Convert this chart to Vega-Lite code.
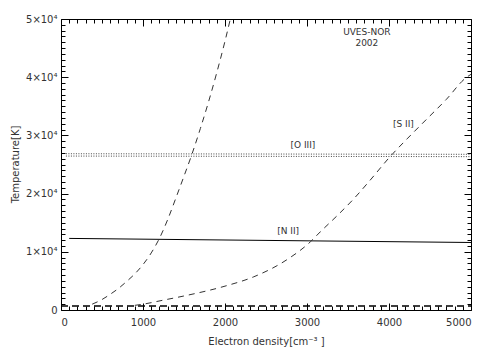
{
  "$schema": "https://vega.github.io/schema/vega-lite/v6.json",
  "width": 410,
  "height": 291,
  "autosize": {"type": "none"},
  "padding": {"left": 61, "top": 19, "right": 20, "bottom": 41},
  "background": "white",
  "config": {
    "view": {"stroke": "black", "strokeWidth": 1},
    "font": "DejaVu Sans",
    "axis": {
      "domain": false, "grid": false,
      "labelFont": "DejaVu Sans", "labelFontSize": 10, "labelColor": "#333",
      "tickColor": "black", "tickWidth": 1,
      "titleFont": "DejaVu Sans", "titleFontWeight": "normal", "titleFontSize": 10, "titleColor": "#333"
    }
  },
  "datasets": {
    "curves": [
      {"series": "base", "density": 0, "temp": 700},
      {"series": "base", "density": 5000, "temp": 700},
      {"series": "nii", "density": 100, "temp": 12300},
      {"series": "nii", "density": 5000, "temp": 11600},
      {"series": "oiii1", "density": 60, "temp": 26850},
      {"series": "oiii1", "density": 5000, "temp": 26750},
      {"series": "oiii2", "density": 60, "temp": 26450},
      {"series": "oiii2", "density": 5000, "temp": 26350},
      {"series": "steep", "density": 380, "temp": 1000},
      {"series": "steep", "density": 500, "temp": 1800},
      {"series": "steep", "density": 600, "temp": 2700},
      {"series": "steep", "density": 700, "temp": 3700},
      {"series": "steep", "density": 800, "temp": 4900},
      {"series": "steep", "density": 900, "temp": 6200},
      {"series": "steep", "density": 1000, "temp": 7800},
      {"series": "steep", "density": 1100, "temp": 9800},
      {"series": "steep", "density": 1200, "temp": 12300},
      {"series": "steep", "density": 1300, "temp": 15500},
      {"series": "steep", "density": 1400, "temp": 19200},
      {"series": "steep", "density": 1500, "temp": 23000},
      {"series": "steep", "density": 1600, "temp": 26900},
      {"series": "steep", "density": 1700, "temp": 31200},
      {"series": "steep", "density": 1800, "temp": 35800},
      {"series": "steep", "density": 1900, "temp": 40800},
      {"series": "steep", "density": 2000, "temp": 46200},
      {"series": "steep", "density": 2065, "temp": 50000},
      {"series": "sii", "density": 900, "temp": 800},
      {"series": "sii", "density": 1000, "temp": 1000},
      {"series": "sii", "density": 1250, "temp": 1700},
      {"series": "sii", "density": 1530, "temp": 2500},
      {"series": "sii", "density": 2000, "temp": 4100},
      {"series": "sii", "density": 2350, "temp": 5700},
      {"series": "sii", "density": 2750, "temp": 8600},
      {"series": "sii", "density": 3040, "temp": 11700},
      {"series": "sii", "density": 3160, "temp": 13400},
      {"series": "sii", "density": 3360, "temp": 16100},
      {"series": "sii", "density": 3570, "temp": 19100},
      {"series": "sii", "density": 3770, "temp": 22300},
      {"series": "sii", "density": 4010, "temp": 26300},
      {"series": "sii", "density": 4220, "temp": 29400},
      {"series": "sii", "density": 4460, "temp": 32800},
      {"series": "sii", "density": 4700, "temp": 36200},
      {"series": "sii", "density": 4930, "temp": 39800},
      {"series": "sii", "density": 5000, "temp": 40500}
    ],
    "labels": [
      {"text": "[O III]", "density": 2950, "temp": 28300},
      {"text": "[N II]", "density": 2770, "temp": 13500},
      {"text": "[S II]", "density": 4175, "temp": 32000},
      {"text": "UVES-NOR", "density": 3730, "temp": 47700},
      {"text": "2002", "density": 3730, "temp": 45850}
    ]
  },
  "resolve": {"axis": {"x": "independent", "y": "independent"}},
  "layer": [
    {
      "data": {"name": "curves"},
      "transform": [{"filter": "datum.series == 'base'"}],
      "mark": {"type": "line", "color": "black", "strokeWidth": 1.5, "strokeDash": [7, 4], "clip": true},
      "encoding": {
        "x": {"field": "density", "type": "quantitative", "scale": {"domain": [0, 5000], "nice": false, "zero": false},
          "axis": {"orient": "bottom", "values": [0, 1000, 2000, 3000, 4000, 5000], "format": "d", "tickSize": -7, "labelPadding": 14,
            "title": "Electron density[cm⁻³ ]", "titleY": 31, "titleBaseline": "middle"}},
        "y": {"field": "temp", "type": "quantitative", "scale": {"domain": [0, 50000], "nice": false, "zero": false},
          "axis": {"orient": "left", "values": [0, 10000, 20000, 30000, 40000, 50000], "tickSize": -7, "labelPadding": 11,
            "labelExpr": "datum.value == 0 ? '0' : format(datum.value/10000, 'd') + '×10⁴'",
            "title": "Temperature[K]", "titleX": -46, "titleY": 145, "titleBaseline": "middle", "titleAngle": 270}}
      }
    },
    {
      "data": {"name": "curves"},
      "transform": [{"filter": "datum.series == 'nii'"}],
      "mark": {"type": "line", "color": "black", "strokeWidth": 1},
      "encoding": {
        "x": {"field": "density", "type": "quantitative", "scale": {"domain": [0, 5000], "nice": false, "zero": false},
          "axis": {"orient": "bottom", "values": [100,200,300,400,500,600,700,800,900,1100,1200,1300,1400,1500,1600,1700,1800,1900,2100,2200,2300,2400,2500,2600,2700,2800,2900,3100,3200,3300,3400,3500,3600,3700,3800,3900,4100,4200,4300,4400,4500,4600,4700,4800,4900], "tickSize": -4, "labels": false, "title": null}},
        "y": {"field": "temp", "type": "quantitative", "scale": {"domain": [0, 50000], "nice": false, "zero": false},
          "axis": {"orient": "left", "values": [1000,2000,3000,4000,5000,6000,7000,8000,9000,11000,12000,13000,14000,15000,16000,17000,18000,19000,21000,22000,23000,24000,25000,26000,27000,28000,29000,31000,32000,33000,34000,35000,36000,37000,38000,39000,41000,42000,43000,44000,45000,46000,47000,48000,49000], "tickSize": -4, "labels": false, "title": null}}
      }
    },
    {
      "data": {"name": "curves"},
      "transform": [{"filter": "datum.series == 'steep'"}],
      "mark": {"type": "line", "color": "#333", "strokeWidth": 1, "strokeDash": [6, 5], "interpolate": "monotone"},
      "encoding": {
        "x": {"field": "density", "type": "quantitative", "scale": {"domain": [0, 5000], "nice": false, "zero": false},
          "axis": {"orient": "top", "values": [0, 1000, 2000, 3000, 4000, 5000], "tickSize": -7, "labels": false, "title": null}},
        "y": {"field": "temp", "type": "quantitative", "scale": {"domain": [0, 50000], "nice": false, "zero": false},
          "axis": {"orient": "right", "values": [0, 10000, 20000, 30000, 40000, 50000], "tickSize": -7, "labels": false, "title": null}}
      }
    },
    {
      "data": {"name": "curves"},
      "transform": [{"filter": "datum.series == 'sii'"}],
      "mark": {"type": "line", "color": "#333", "strokeWidth": 1, "strokeDash": [6, 5], "interpolate": "monotone"},
      "encoding": {
        "x": {"field": "density", "type": "quantitative", "scale": {"domain": [0, 5000], "nice": false, "zero": false},
          "axis": {"orient": "top", "values": [100,200,300,400,500,600,700,800,900,1100,1200,1300,1400,1500,1600,1700,1800,1900,2100,2200,2300,2400,2500,2600,2700,2800,2900,3100,3200,3300,3400,3500,3600,3700,3800,3900,4100,4200,4300,4400,4500,4600,4700,4800,4900], "tickSize": -4, "labels": false, "title": null}},
        "y": {"field": "temp", "type": "quantitative", "scale": {"domain": [0, 50000], "nice": false, "zero": false},
          "axis": {"orient": "right", "values": [1000,2000,3000,4000,5000,6000,7000,8000,9000,11000,12000,13000,14000,15000,16000,17000,18000,19000,21000,22000,23000,24000,25000,26000,27000,28000,29000,31000,32000,33000,34000,35000,36000,37000,38000,39000,41000,42000,43000,44000,45000,46000,47000,48000,49000], "tickSize": -4, "labels": false, "title": null}}
      }
    },
    {
      "data": {"name": "curves"},
      "transform": [{"filter": "datum.series == 'oiii1' || datum.series == 'oiii2'"}],
      "mark": {"type": "line", "color": "#444", "strokeWidth": 1, "strokeDash": [1, 1.5]},
      "encoding": {
        "x": {"field": "density", "type": "quantitative", "axis": null},
        "y": {"field": "temp", "type": "quantitative", "axis": null},
        "detail": {"field": "series"}
      }
    },
    {
      "data": {"name": "labels"},
      "mark": {"type": "text", "font": "DejaVu Sans", "fontSize": 9, "color": "#333", "align": "center", "baseline": "middle"},
      "encoding": {
        "x": {"field": "density", "type": "quantitative", "axis": null},
        "y": {"field": "temp", "type": "quantitative", "axis": null},
        "text": {"field": "text"}
      }
    }
  ]
}
